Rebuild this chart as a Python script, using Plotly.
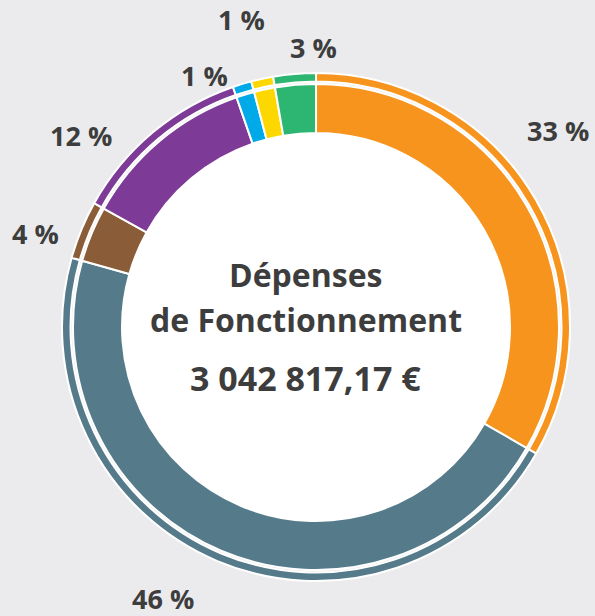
import plotly.graph_objects as go

categories = ["Charges à caractère général", "Charges de personnel", "Atténuations de produits",
              "Autres charges de gestion courante", "Charges financières", "Charges exceptionnelles",
              "Opérations d'ordre"]
values = [33.3, 46.1, 3.7, 11.6, 1.2, 1.4, 2.7]
pct_labels = ["33 %", "46 %", "4 %", "12 %", "1 %", "1 %", "3 %"]
colors = ["#f7941d", "#557b8b", "#8a5c38", "#7d3a96", "#00a9e8", "#fdd800", "#2db672"]
title_lines = ["Dépenses", "de Fonctionnement", "3 042 817,17 €"]

W, H = 595, 616
cx, cy = 316, 327

def dom(r):
    yc = H - cy
    return dict(x=[(cx - r) / W, (cx + r) / W], y=[(yc - r) / H, (yc + r) / H])

fig = go.Figure()
# thin outer ring
fig.add_trace(go.Pie(values=values, labels=categories, marker=dict(colors=colors, line=dict(color="white", width=2)),
                     hole=245.5 / 254, domain=dom(254), sort=False, direction="clockwise", rotation=0,
                     textinfo="none", hoverinfo="label+percent", showlegend=False))
# main ring
fig.add_trace(go.Pie(values=values, labels=categories, marker=dict(colors=colors, line=dict(color="white", width=2)),
                     hole=194 / 243, domain=dom(243), sort=False, direction="clockwise", rotation=0,
                     textinfo="none", hoverinfo="label+percent", showlegend=False))
# white centre disc
fig.add_trace(go.Pie(values=[1], labels=["total"], marker=dict(colors=["white"], line=dict(width=0)),
                     domain=dom(194), textinfo="none", hoverinfo="skip", showlegend=False))

FONT = "Open Sans"
label_pos = [(558, 130), (163, 598), (35, 233), (81, 136), (204, 76), (241, 20), (313, 47)]
for txt, (px, py) in zip(pct_labels, label_pos):
    fig.add_annotation(x=px / W, y=1 - py / H, xref="paper", yref="paper", text=f"<b>{txt}</b>",
                       xanchor="center", yanchor="middle",
                       showarrow=False, font=dict(family=FONT, size=27, color="#3d3d3d"))

for txt, py, sz in zip(title_lines, [274, 320, 378], [32, 32, 34]):
    fig.add_annotation(x=306 / W, y=1 - py / H, xref="paper", yref="paper", text=f"<b>{txt}</b>",
                       xanchor="center", yanchor="middle",
                       showarrow=False, font=dict(family=FONT, size=sz, color="#3d3d3d"))

fig.update_layout(width=W, height=H, margin=dict(l=0, r=0, t=0, b=0),
                  paper_bgcolor="#ebebed", plot_bgcolor="#ebebed")
fig.write_html("out.html", config={"displayModeBar": False},
               post_script="document.body.style.margin='0';document.body.style.overflow='hidden';")
